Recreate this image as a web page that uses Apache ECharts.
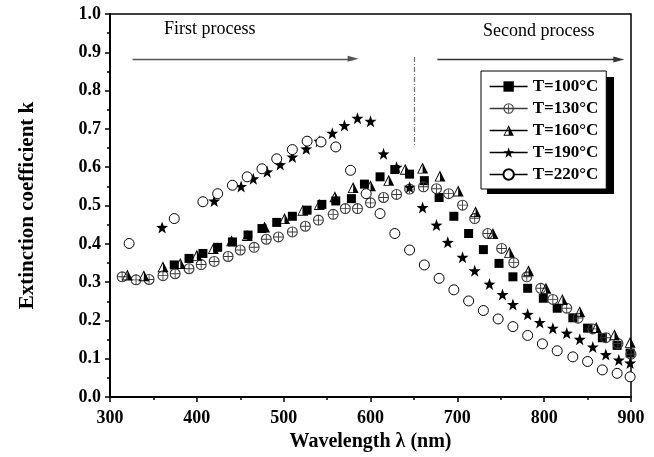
<!DOCTYPE html>
<html>
<head>
<meta charset="utf-8">
<script src="https://cdn.jsdelivr.net/npm/echarts@6/dist/echarts.min.js"></script>
<style>
  html, body { margin: 0; padding: 0; background: #fff; }
  #chart { width: 654px; height: 457px; }
</style>
</head>
<body>
<div id="chart"></div>
<script>
// Extinction coefficient k versus wavelength for films annealed at five temperatures.
// Each series is a list of [wavelength (nm), k] pairs.
const seriesNames = ['T=100°C', 'T=130°C', 'T=160°C', 'T=190°C', 'T=220°C'];

const k100 = [
  [374, 0.345], [391, 0.362], [407, 0.375], [424, 0.391], [441, 0.405], [459, 0.423],
  [475, 0.440], [492, 0.456], [510, 0.472], [527, 0.488], [544, 0.503], [560, 0.512],
  [578, 0.518], [593, 0.556], [611, 0.575], [628, 0.594], [645, 0.582], [662, 0.565],
  [679, 0.521], [696, 0.472], [713, 0.427], [730, 0.385], [748, 0.349], [764, 0.314],
  [781, 0.284], [799, 0.258], [815, 0.232], [833, 0.207], [850, 0.180], [867, 0.155],
  [884, 0.135], [899, 0.115]
];

const k130 = [
  [314, 0.314], [330, 0.306], [345, 0.307], [361, 0.317], [375, 0.322], [391, 0.335],
  [405, 0.346], [420, 0.354], [436, 0.367], [450, 0.384], [466, 0.391], [480, 0.412],
  [494, 0.418], [510, 0.431], [525, 0.446], [540, 0.462], [557, 0.477], [571, 0.492],
  [585, 0.492], [600, 0.507], [615, 0.521], [630, 0.529], [645, 0.543], [661, 0.549],
  [676, 0.544], [690, 0.531], [706, 0.501], [720, 0.466], [735, 0.427], [751, 0.388],
  [765, 0.351], [780, 0.314], [796, 0.284], [810, 0.255], [826, 0.232], [839, 0.206],
  [856, 0.178], [871, 0.155], [885, 0.140], [900, 0.112]
];

const k160 = [
  [320, 0.319], [339, 0.317], [361, 0.340], [381, 0.349], [400, 0.370], [419, 0.388],
  [440, 0.408], [458, 0.422], [478, 0.444], [501, 0.466], [522, 0.488], [541, 0.503],
  [559, 0.523], [580, 0.547], [600, 0.552], [621, 0.566], [640, 0.595], [660, 0.598],
  [680, 0.577], [701, 0.538], [721, 0.484], [741, 0.427], [760, 0.378], [782, 0.330],
  [802, 0.284], [821, 0.255], [841, 0.223], [860, 0.182], [881, 0.163], [899, 0.143]
];

const k190 = [
  [360, 0.443], [420, 0.512], [451, 0.550], [465, 0.570], [481, 0.588], [496, 0.607],
  [510, 0.627], [526, 0.648], [541, 0.668], [556, 0.689], [570, 0.709], [585, 0.728],
  [600, 0.720], [615, 0.635], [630, 0.600], [645, 0.548], [660, 0.495], [676, 0.449],
  [689, 0.404], [706, 0.365], [720, 0.330], [737, 0.295], [752, 0.268], [764, 0.242],
  [781, 0.216], [795, 0.195], [810, 0.180], [826, 0.167], [841, 0.151], [856, 0.131],
  [871, 0.111], [886, 0.097], [899, 0.089]
];

const k220 = [
  [322, 0.401], [374, 0.466], [407, 0.510], [424, 0.531], [441, 0.553], [458, 0.575],
  [475, 0.596], [492, 0.622], [510, 0.646], [527, 0.668], [543, 0.666], [560, 0.653],
  [577, 0.592], [595, 0.531], [611, 0.479], [628, 0.427], [645, 0.384], [662, 0.345],
  [679, 0.310], [696, 0.280], [713, 0.251], [730, 0.226], [747, 0.204], [764, 0.184],
  [781, 0.161], [798, 0.139], [815, 0.121], [833, 0.105], [850, 0.093], [867, 0.071],
  [884, 0.062], [899, 0.053]
];

// Axis ranges and tick spacing
const xRange = [300, 900], xStep = 100;
const yRange = [0, 1], yStep = 0.1;

// Annotations in data space: process arrows and the boundary between them
const firstArrow = [[326, 0.883], [580, 0.883]];
const secondArrow = [[677, 0.881], [886, 0.881]];
const boundaryLine = [[650, 0.888], [650, 0.655]];
const processLabels = ['First process', 'Second process'];

const SERIF = '"Liberation Serif", "Times New Roman", serif';

// Marker shapes
const STAR = 'path://M50 0 L61.76 33.82 L97.55 34.55 L69.02 56.18 L79.39 90.45 L50 70 L20.61 90.45 L30.98 56.18 L2.45 34.55 L38.24 33.82 Z';
const HALF_TRIANGLE = 'path://M50 0 L100 100 L0 100 Z M50 20 L12 92 L88 92 Z M50 0 L100 100 L50 100 Z';
const CROSS_CIRCLE = 'path://M0 50 A50 50 0 1 1 100 50 A50 50 0 1 1 0 50 Z ' +
  'M10 50 A40 40 0 1 0 90 50 A40 40 0 1 0 10 50 Z ' +
  'M46 11 L54 11 L54 89 L46 89 Z M11 46 L89 46 L89 54 L11 54 Z';

function pointSeries(name, data, symbol, size, fill, stroke, borderWidth) {
  return {
    name: name,
    type: 'line',
    data: data,
    symbol: symbol,
    symbolSize: size,
    showAllSymbol: true,
    lineStyle: { opacity: 0, color: stroke },
    itemStyle: { color: fill, borderColor: stroke, borderWidth: borderWidth, opacity: 1 },
    emphasis: { disabled: true },
    animation: false,
    z: 3
  };
}

const series = [
  pointSeries(seriesNames[0], k100, 'rect', 9, '#000', '#000', 0),
  pointSeries(seriesNames[1], k130, CROSS_CIRCLE, 11, '#3a3a3a', '#3a3a3a', 0),
  pointSeries(seriesNames[2], k160, HALF_TRIANGLE, 11, '#000', '#000', 0),
  pointSeries(seriesNames[3], k190, STAR, 12, '#000', '#000', 0),
  pointSeries(seriesNames[4], k220, 'circle', 10, '#fff', '#000', 1)
];

series[0].markLine = {
  silent: true,
  animation: false,
  label: { show: false },
  emphasis: { disabled: true },
  data: [
    [
      { coord: firstArrow[0], symbol: 'none' },
      { coord: firstArrow[1], symbol: 'triangle', symbolSize: [6, 11],
        lineStyle: { color: '#555', width: 1.3, type: 'solid' }, itemStyle: { color: '#000' } }
    ],
    [
      { coord: secondArrow[0], symbol: 'none' },
      { coord: secondArrow[1], symbol: 'triangle', symbolSize: [6, 11],
        lineStyle: { color: '#333', width: 1.3, type: 'solid' }, itemStyle: { color: '#000' } }
    ],
    [
      { coord: boundaryLine[0], symbol: 'none' },
      { coord: boundaryLine[1], symbol: 'none',
        lineStyle: { color: '#777', width: 1.3, type: [5, 2, 1, 2] } }
    ]
  ]
};

// Legend box geometry (box and its solid drop shadow)
const legendBox = { left: 481, top: 71, width: 127, height: 117, shadow: 6 };

const chart = echarts.init(document.getElementById('chart'), null, { renderer: 'canvas' });

chart.setOption({
  backgroundColor: '#fff',
  animation: false,
  grid: {
    left: 110, right: 23, top: 14, bottom: 58,
    show: true, borderColor: '#000', borderWidth: 1.5, backgroundColor: 'transparent'
  },
  xAxis: {
    type: 'value',
    min: xRange[0], max: xRange[1], interval: xStep,
    name: 'Wavelength λ (nm)',
    nameLocation: 'middle',
    nameGap: 32,
    nameTextStyle: { fontFamily: SERIF, fontWeight: 'bold', fontSize: 20, color: '#000' },
    axisLine: { lineStyle: { color: '#000', width: 2 } },
    axisTick: { length: 5, lineStyle: { color: '#000', width: 1.5 } },
    minorTick: { show: true, splitNumber: 2, length: 3, lineStyle: { color: '#000', width: 1.5 } },
    splitLine: { show: false },
    axisLabel: { margin: 12, fontFamily: SERIF, fontWeight: 'bold', fontSize: 18, color: '#000' }
  },
  yAxis: {
    type: 'value',
    min: yRange[0], max: yRange[1], interval: yStep,
    name: 'Extinction coefficient k',
    nameLocation: 'middle',
    nameGap: 72,
    nameTextStyle: { fontFamily: SERIF, fontWeight: 'bold', fontSize: 21, color: '#000' },
    axisLine: { lineStyle: { color: '#000', width: 2 } },
    axisTick: { length: 5, lineStyle: { color: '#000', width: 1.5 } },
    minorTick: { show: true, splitNumber: 2, length: 3, lineStyle: { color: '#000', width: 1.5 } },
    splitLine: { show: false },
    axisLabel: {
      margin: 9, fontFamily: SERIF, fontWeight: 'bold', fontSize: 18, color: '#000',
      formatter: function (v) { return v.toFixed(1); }
    }
  },
  legend: {
    data: seriesNames,
    orient: 'vertical',
    left: legendBox.left, top: legendBox.top,
    width: legendBox.width,
    padding: [7, 8, 6, 8],
    itemGap: 5,
    itemWidth: 38,
    itemHeight: 13,
    backgroundColor: '#fff',
    borderColor: '#000',
    borderWidth: 1,
    lineStyle: { opacity: 1, width: 1.3 },
    selectedMode: false,
    z: 6,
    textStyle: { fontFamily: SERIF, fontWeight: 'bold', fontSize: 17, lineHeight: 17, color: '#000' }
  },
  graphic: [
    { type: 'rect', z: 5, silent: true,
      shape: { x: legendBox.left + legendBox.shadow, y: legendBox.top + legendBox.shadow,
               width: legendBox.width, height: legendBox.height },
      style: { fill: '#000' } },
    { type: 'text', left: 164, top: 20, silent: true,
      style: { text: processLabels[0], font: '18px ' + SERIF, fill: '#000' } },
    { type: 'text', left: 483, top: 22, silent: true,
      style: { text: processLabels[1], font: '18px ' + SERIF, fill: '#000' } }
  ],
  series: series
});
</script>
</body>
</html>
